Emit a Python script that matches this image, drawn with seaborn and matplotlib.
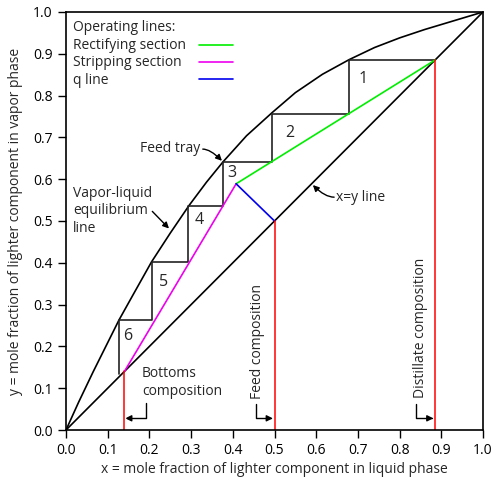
import pandas as pd
import matplotlib
matplotlib.use('Agg')
import matplotlib.pyplot as plt
import seaborn as sns

# McCabe-Thiele diagram, values
eq_x = [0, 0.03, 0.065, 0.1, 0.127, 0.16, 0.205, 0.25, 0.295, 0.337, 0.377,
        0.433, 0.494, 0.55, 0.615, 0.679, 0.74, 0.8, 0.86, 0.93, 1.0]
eq_y = [0, 0.066, 0.139, 0.209, 0.263, 0.322, 0.402, 0.471, 0.537, 0.593, 0.642,
        0.704, 0.759, 0.807, 0.851, 0.886, 0.915, 0.938, 0.958, 0.979, 1.0]

x_bottoms = 0.14
x_feed = 0.5
x_distillate = 0.885
x_intersect = 0.408
y_intersect = 0.589

# staircase corners: liquid composition / vapour composition of each stage
stage_x = [0.885, 0.679, 0.494, 0.377, 0.293, 0.206, 0.127]
stage_y = [0.885, 0.757, 0.642, 0.537, 0.402, 0.263, 0.134]
stage_labels = ['1', '2', '3', '4', '5', '6']

op_names = ['Rectifying section', 'Stripping section', 'q line']
op_colors = ['#00ee00', '#ee00ee', '#0000ee']

sns.set_style('ticks')
plt.rcParams['font.family'] = ['Open Sans', 'DejaVu Sans']
plt.rcParams['font.size'] = 10

fig = plt.figure(figsize=(5.0, 4.91), dpi=100)
ax = fig.add_axes([0.132, 0.1242, 0.834, 0.8514])

eq = pd.DataFrame({'x': eq_x, 'y': eq_y})
sns.lineplot(data=eq, x='x', y='y', color='black', lw=1.2, ax=ax,
             estimator=None, sort=False)
sns.lineplot(x=[0, 1], y=[0, 1], color='black', lw=1.2, ax=ax, estimator=None)

# staircase
sx, sy = [stage_x[0]], [stage_y[0]]
for i in range(1, len(stage_x)):
    sx += [stage_x[i], stage_x[i]]
    sy += [stage_y[i - 1], stage_y[i]]
ax.plot(sx, sy, color='#222222', lw=1.2)

# operating lines
op_lines = [([x_distillate, x_intersect], [x_distillate, y_intersect]),
            ([x_bottoms, x_intersect], [x_bottoms, y_intersect]),
            ([x_feed, x_intersect], [x_feed, y_intersect])]
for (lx, ly), c in zip(op_lines, op_colors):
    sns.lineplot(x=lx, y=ly, color=c, lw=1.2, ax=ax, estimator=None, sort=False)

# compositions
for xc in [x_bottoms, x_feed, x_distillate]:
    ax.plot([xc, xc], [0, xc], color='red', lw=1.1)

# stage numbers
label_pos = [(0.713, 0.840), (0.536, 0.710), (0.397, 0.614),
             (0.320, 0.502), (0.235, 0.353), (0.149, 0.225)]
for lab, (lx, ly) in zip(stage_labels, label_pos):
    ax.text(lx, ly, lab, fontsize=11.5, ha='center', va='center')

# legend block (text left, keys right)
ax.text(0.017, 0.962, 'Operating lines:', transform=ax.transAxes, va='center')
for i, (name, c) in enumerate(zip(op_names, op_colors)):
    yy = 0.922 - i * 0.041
    ax.text(0.017, yy - 0.003, name, transform=ax.transAxes, va='center')
    ax.plot([0.319, 0.400], [yy, yy], color=c, lw=1.2, transform=ax.transAxes)

arrow = dict(arrowstyle='-|>', color='black', lw=1.0,
             shrinkA=0, shrinkB=0, mutation_scale=9)

ax.text(0.321, 0.673, 'Feed tray', ha='right', va='center')
ax.annotate('', xy=(0.374, 0.644), xytext=(0.328, 0.672),
            arrowprops=dict(arrow, connectionstyle='angle3,angleA=0,angleB=-45'))

ax.text(0.017, 0.524, 'Vapor-liquid\nequilibrium\nline', ha='left', va='center',
        linespacing=1.25)
ax.annotate('', xy=(0.247, 0.482), xytext=(0.207, 0.523), arrowprops=arrow)

ax.text(0.647, 0.557, 'x=y line', ha='left', va='center')
ax.annotate('', xy=(0.592, 0.586), xytext=(0.643, 0.557),
            arrowprops=dict(arrow, connectionstyle='angle3,angleA=0,angleB=-45'))

ax.text(0.182, 0.114, 'Bottoms\ncomposition', ha='left', va='center',
        linespacing=1.25)
ax.annotate('', xy=(0.142, 0.028), xytext=(0.191, 0.064),
            arrowprops=dict(arrow, connectionstyle='angle,angleA=90,angleB=0,rad=0'))

ax.text(0.46, 0.074, 'Feed composition', rotation=90, ha='center', va='bottom')
ax.annotate('', xy=(0.496, 0.028), xytext=(0.455, 0.062),
            arrowprops=dict(arrow, connectionstyle='angle,angleA=90,angleB=0,rad=0'))

ax.text(0.849, 0.077, 'Distillate composition', rotation=90, ha='center', va='bottom')
ax.annotate('', xy=(0.881, 0.028), xytext=(0.840, 0.062),
            arrowprops=dict(arrow, connectionstyle='angle,angleA=90,angleB=0,rad=0'))

ax.set_xlim(0, 1)
ax.set_ylim(0, 1)
ticks = [i / 10 for i in range(11)]
ax.set_xticks(ticks)
ax.set_yticks(ticks)
ax.set_xticklabels([f'{t:.1f}' for t in ticks])
ax.set_yticklabels([f'{t:.1f}' for t in ticks])
ax.tick_params(direction='out', length=6, width=1, colors='black', labelsize=10, pad=3.5)
for s in ax.spines.values():
    s.set_visible(True)
    s.set_color('black')
    s.set_linewidth(1.2)
ax.set_xlabel('x = mole fraction of lighter component in liquid phase', fontsize=10, labelpad=3)
ax.set_ylabel('y = mole fraction of lighter component in vapor phase', fontsize=10, labelpad=7)

fig.savefig('out.png', dpi=100)
